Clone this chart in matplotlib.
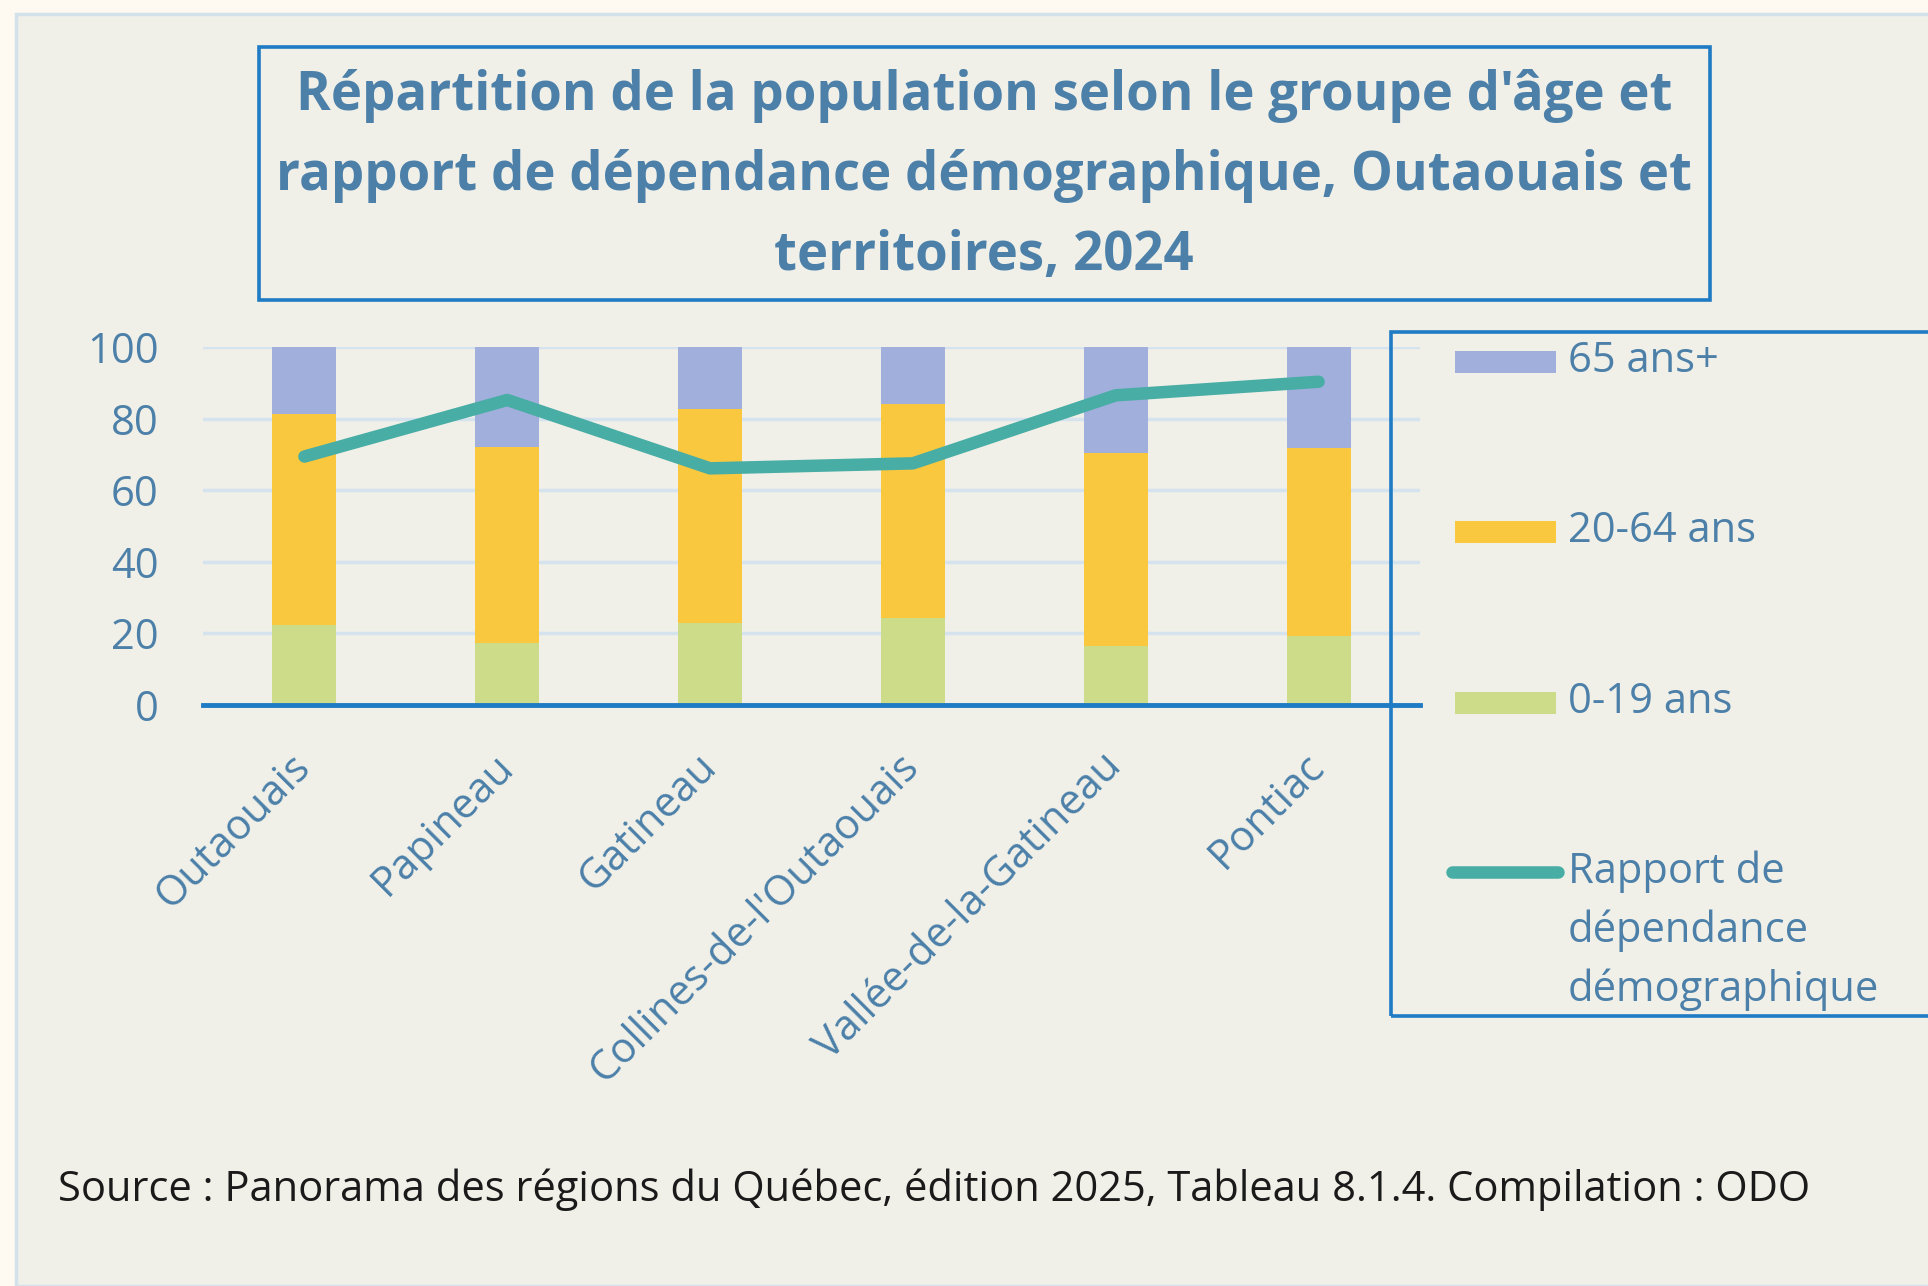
import matplotlib
matplotlib.use("Agg")
import matplotlib.pyplot as plt
from matplotlib.patches import Rectangle
from matplotlib.lines import Line2D

W, H = 1928, 1286

territoires = ["Outaouais", "Papineau", "Gatineau", "Collines-de-l'Outaouais",
               "Vallée-de-la-Gatineau", "Pontiac"]
age_0_19 = [22.3, 17.4, 23.0, 24.3, 16.5, 19.4]
age_20_64 = [59.0, 54.6, 59.6, 59.8, 54.0, 52.5]
age_65 = [18.7, 28.0, 17.4, 15.9, 29.5, 28.1]
rapport = [69.4, 85.2, 66.1, 67.5, 86.5, 90.3]

series_labels = ["65 ans+", "20-64 ans", "0-19 ans"]
line_label = "Rapport de\ndépendance\ndémographique"
title_lines = ["Répartition de la population selon le groupe d'âge et",
               "rapport de dépendance démographique, Outaouais et",
               "territoires, 2024"]
source = "Source : Panorama des régions du Québec, édition 2025, Tableau 8.1.4. Compilation : ODO"

C65 = "#a1afdc"
C2064 = "#f9c83f"
C019 = "#cddc89"
CLINE = "#48ada5"
BLUE = "#1f7bc4"
TXT = "#4c80a9"
GRID = "#d5e3ee"
BG = "#f0f0e8"

plt.rcParams["font.family"] = ["Open Sans", "DejaVu Sans"]


def fx(px):
    return px / W


def fy(py):
    return 1 - py / H


fig = plt.figure(figsize=(W / 100, H / 100), dpi=100)
fig.patch.set_facecolor("#fefaf1")

# panel background
fig.patches.append(Rectangle((fx(16), 0), 1, fy(14), transform=fig.transFigure,
                             facecolor=BG, edgecolor="#d3e1ea", lw=2.5, zorder=-1))

ax = fig.add_axes([fx(203), fy(705), fx(1420 - 203), (705 - 347) / H])
ax.set_facecolor("none")
ax.set_xlim(-0.5, 5.5)
ax.set_ylim(0, 100)

x = range(len(territoires))
width = 0.315
ax.bar(x, age_0_19, width, color=C019, zorder=2)
bottom2 = age_0_19
ax.bar(x, age_20_64, width, bottom=bottom2, color=C2064, zorder=2)
bottom3 = [a + b for a, b in zip(age_0_19, age_20_64)]
ax.bar(x, age_65, width, bottom=bottom3, color=C65, zorder=2)
ax.plot(x, rapport, color=CLINE, lw=9, solid_capstyle="round",
        solid_joinstyle="round", zorder=3)

ax.set_yticks([0, 20, 40, 60, 80, 100])
ax.yaxis.grid(True, color=GRID, lw=2.5, zorder=1)
ax.set_axisbelow(True)
for s in ["top", "right", "left"]:
    ax.spines[s].set_visible(False)
ax.spines["bottom"].set_color(BLUE)
ax.spines["bottom"].set_linewidth(3.5)
ax.spines["bottom"].set_zorder(4)
ax.tick_params(axis="both", length=0, labelcolor=TXT, labelsize=30)
ax.tick_params(axis="y", pad=32)
ax.tick_params(axis="x", pad=40)
ax.set_xticks(list(x))
ax.set_xticklabels(territoires, rotation=45, ha="right", va="center",
                   rotation_mode="anchor")

# title box
fig.patches.append(Rectangle((fx(259), fy(300)), fx(1710 - 259), (300 - 47) / H,
                             transform=fig.transFigure, facecolor="none",
                             edgecolor=BLUE, lw=2.6, zorder=5))
for ty, line in zip([96, 176, 256], title_lines):
    fig.text(fx(984), fy(ty), line, ha="center", va="center", fontsize=38,
             fontweight="bold", color=TXT)

# legend box
fig.patches.append(Rectangle((fx(1391), fy(1016)), fx(600), (1016 - 332) / H,
                             transform=fig.transFigure, facecolor="none",
                             edgecolor=BLUE, lw=2.6, zorder=5))
for cy, col, lab in zip([361, 531, 702], [C65, C2064, C019], series_labels):
    fig.patches.append(Rectangle((fx(1455), fy(cy + 12)), fx(101), 22 / H,
                                 transform=fig.transFigure, facecolor=col,
                                 edgecolor="none"))
    fig.text(fx(1568), fy(cy), lab, ha="left", va="center", fontsize=30,
             color=TXT)
fig.lines.append(Line2D([fx(1452), fx(1558)], [fy(872), fy(872)],
                        transform=fig.transFigure, color=CLINE, lw=9,
                        solid_capstyle="round"))
for ty, line in zip([872, 931, 990], line_label.split("\n")):
    fig.text(fx(1568), fy(ty), line, ha="left", va="center", fontsize=30,
             color=TXT)

fig.text(fx(58), fy(1190), source, ha="left", va="center", fontsize=30,
         color="#1a1a1a")

fig.savefig("out.png", dpi=100, facecolor=fig.get_facecolor())
